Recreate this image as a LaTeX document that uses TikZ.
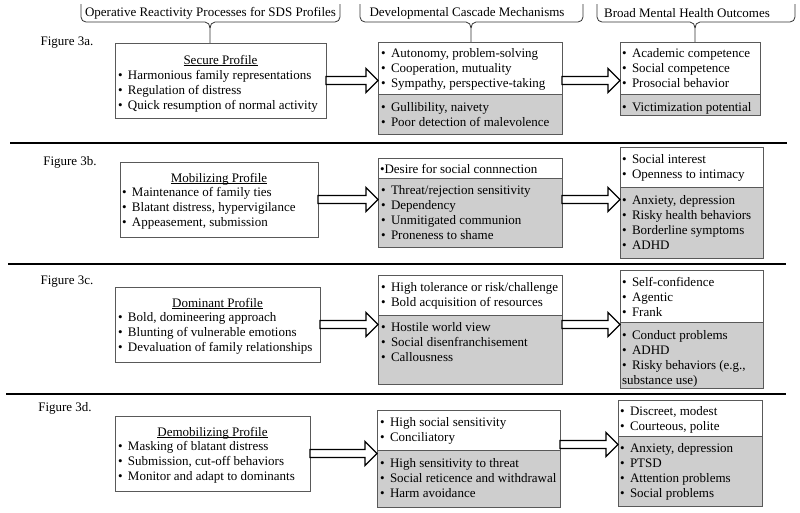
\documentclass[tikz,border=0pt]{standalone}
\usepackage{fontspec}
\setmainfont{Liberation Serif}
\usetikzlibrary{calc}
\definecolor{boxgray}{RGB}{206,206,206}
\newcommand\bul{\makebox[10pt][l]{\textbullet}}
\newcommand\fst{\rule{0pt}{10pt}}
\newcommand\ulin[1]{\setbox0\hbox{#1}\rlap{\rule[-1.7pt]{\wd0}{0.6pt}}\box0}
\newcommand\blockarr[2]{\draw[barrow] ($(#1)+(0,-4)$) -- ($(#2)+(-12,-4)$) -- ($(#2)+(-12,-12)$) -- (#2) -- ($(#2)+(-12,12)$) -- ($(#2)+(-12,4)$) -- ($(#1)+(0,4)$) -- cycle;}
\newcommand\hbrk[4]{\draw[brk] (#1,4) -- (#1,17) to[out=-90,in=180] ({#1+5},22) -- ({#3-5},22) to[out=0,in=90] (#3,28) -- (#3,#4);
  \draw[brk] (#3,28) to[out=90,in=180] ({#3+5},22) -- ({#2-5},22) to[out=0,in=-90] (#2,17) -- (#2,4);}
\begin{document}
\begin{tikzpicture}[x=1pt,y=-1pt,
  box/.style={draw=black!65, line width=0.8pt, inner sep=0pt, outer sep=0pt, anchor=north west},
  wbox/.style={box, fill=white},
  gbox/.style={box, fill=boxgray},
  sz/.style 2 args={minimum width=#1pt, minimum height=#2pt},
  txt/.style={anchor=north west, inner sep=0pt, outer sep=0pt, align=left, font=\fontsize{13}{15}\selectfont},
  ttl/.style={anchor=north, inner sep=0pt, outer sep=0pt, font=\fontsize{13}{15}\selectfont},
  hdr/.style={inner sep=0pt, font=\fontsize{13}{15}\selectfont},
  fig/.style={inner sep=0pt, font=\fontsize{13}{15}\selectfont},
  barrow/.style={draw=black, line width=1.3pt, fill=white, line join=miter},
  sepline/.style={line width=2pt},
  brk/.style={line width=0.8pt, black!80}]
\useasboundingbox (0,0) rectangle (800,512);

% headers
\node[hdr] (h1) at (210.5,13) {Operative Reactivity Processes for SDS Profiles};
\node[hdr] (h2) at (467,13) {Developmental Cascade Mechanisms};
\node[hdr] (h3) at (687,13) {Broad Mental Health Outcomes};
\hbrk{81}{340}{210}{43}
\hbrk{360}{583}{471}{42}
\hbrk{597}{795}{695}{42}

% separators
\coordinate (s1l) at (10,143); \coordinate (s1r) at (787,143);
\coordinate (s2l) at (8,264);  \coordinate (s2r) at (786,264);
\coordinate (s3l) at (6,394);  \coordinate (s3r) at (786,394);
\draw[sepline] (s1l) -- (s1r);
\draw[sepline] (s2l) -- (s2r);
\draw[sepline] (s3l) -- (s3r);

% ---------- Figure 3a ----------
\node[fig] (f3a) at (67,43) {Figure 3a.};
\node[wbox, sz={211}{75}] (la) at (115,43) {};
\node[ttl] (la-h) at ($(la.north)+(0,11)$) {\fst\ulin{Secure Profile}};
\node[txt] (la-t) at (118,69) {\fst\bul Harmonious family representations\\\bul Regulation of distress\\\bul Quick resumption of normal activity};
\node[wbox, sz={184}{52}] (ma) at (378,42) {};
\node[gbox, sz={184}{40}] (mag) at (378,94) {};
\node[txt] (ma-t) at (381,47) {\fst\bul Autonomy, problem-solving\\\bul Cooperation, mutuality\\\bul Sympathy, perspective-taking};
\node[txt] (mag-t) at (381,101) {\fst\bul Gullibility, naivety\\\bul Poor detection of malevolence};
\node[wbox, sz={140}{52}] (ra) at (620,42) {};
\node[gbox, sz={140}{21}] (rag) at (620,94) {};
\node[txt] (ra-t) at (622,47) {\fst\bul Academic competence\\\bul Social competence\\\bul Prosocial behavior};
\node[txt] (rag-t) at (622,101) {\fst\bul Victimization potential};
\coordinate (a1s) at (la.east);
\coordinate (a1t) at (ma.west |- la.east);
\coordinate (a2s) at (ma.east |- la.east);
\coordinate (a2t) at (ra.west |- la.east);
\blockarr{a1s}{a1t}
\blockarr{a2s}{a2t}

% ---------- Figure 3b ----------
\node[fig] (f3b) at (70,162) {Figure 3b.};
\node[wbox, sz={198}{75}] (lb) at (120,162) {};
\node[ttl] (lb-h) at ($(lb.north)+(0,10)$) {\fst\ulin{Mobilizing Profile}};
\node[txt] (lb-t) at (122,186) {\fst\bul Maintenance of family ties\\\bul Blatant distress, hypervigilance\\\bul Appeasement, submission};
\node[wbox, sz={184}{20}] (mb) at (378,158) {};
\node[gbox, sz={184}{69}] (mbg) at (378,178) {};
\node[txt] (mb-t) at (380,163) {\fst\textbullet Desire for social connnection};
\node[txt] (mbg-t) at (381,184) {\fst\bul Threat/rejection sensitivity\\\bul Dependency\\\bul Unmitigated communion\\\bul Proneness to shame};
\node[wbox, sz={143}{40}] (rb) at (620,147) {};
\node[gbox, sz={143}{71}] (rbg) at (620,187) {};
\node[txt] (rb-t) at (622,153) {\fst\bul Social interest\\\bul Openness to intimacy};
\node[txt] (rbg-t) at (622,194) {\fst\bul Anxiety, depression\\\bul Risky health behaviors\\\bul Borderline symptoms\\\bul ADHD};
\coordinate (b1s) at (lb.east);
\coordinate (b1t) at (mbg.west |- lb.east);
\coordinate (b2s) at (mbg.east |- lb.east);
\coordinate (b2t) at (rbg.west |- lb.east);
\blockarr{b1s}{b1t}
\blockarr{b2s}{b2t}

% ---------- Figure 3c ----------
\node[fig] (f3c) at (67,282) {Figure 3c.};
\node[wbox, sz={205}{75}] (lc) at (115,287) {};
\node[ttl] (lc-h) at ($(lc.north)+(0,10)$) {\fst\ulin{Dominant Profile}};
\node[txt] (lc-t) at (118,311) {\fst\bul Bold, domineering approach\\\bul Blunting of vulnerable emotions\\\bul Devaluation of family relationships};
\node[wbox, sz={184}{40}] (mc) at (378,275) {};
\node[gbox, sz={184}{69}] (mcg) at (378,315) {};
\node[txt] (mc-t) at (381,281) {\fst\bul High tolerance or risk/challenge\\\bul Bold acquisition of resources};
\node[txt] (mcg-t) at (381,321) {\fst\bul Hostile world view\\\bul Social disenfranchisement\\\bul Callousness};
\node[wbox, sz={143}{52}] (rc) at (620,270) {};
\node[gbox, sz={143}{66}] (rcg) at (620,322) {};
\node[txt] (rc-t) at (622,276) {\fst\bul Self-confidence\\\bul Agentic\\\bul Frank};
\node[txt] (rcg-t) at (622,329) {\fst\bul Conduct problems\\\bul ADHD\\\bul Risky behaviors (e.g.,\\substance use)};
\coordinate (c1s) at (lc.east);
\coordinate (c1t) at (mc.west |- lc.east);
\coordinate (c2s) at (mc.east |- lc.east);
\coordinate (c2t) at (rc.west |- lc.east);
\blockarr{c1s}{c1t}
\blockarr{c2s}{c2t}

% ---------- Figure 3d ----------
\node[fig] (f3d) at (65,408) {Figure 3d.};
\node[wbox, sz={195}{75}] (ld) at (115,416) {};
\node[ttl] (ld-h) at ($(ld.north)+(0,10)$) {\fst\ulin{Demobilizing Profile}};
\node[txt] (ld-t) at (118,440) {\fst\bul Masking of blatant distress\\\bul Submission, cut-off behaviors\\\bul Monitor and adapt to dominants};
\node[wbox, sz={183}{40}] (md) at (377,410) {};
\node[gbox, sz={183}{57}] (mdg) at (377,450) {};
\node[txt] (md-t) at (380,416) {\fst\bul High social sensitivity\\\bul Conciliatory};
\node[txt] (mdg-t) at (380,457) {\fst\bul High sensitivity to threat\\\bul Social reticence and withdrawal\\\bul Harm avoidance};
\node[wbox, sz={144}{36}] (rd) at (618,400) {};
\node[gbox, sz={144}{70}] (rdg) at (618,436) {};
\node[txt] (rd-t) at (620,405) {\fst\bul Discreet, modest\\\bul Courteous, polite};
\node[txt] (rdg-t) at (620,442) {\fst\bul Anxiety, depression\\\bul PTSD\\\bul Attention problems\\\bul Social problems};
\coordinate (d1s) at (ld.east);
\coordinate (d1t) at (mdg.west |- ld.east);
\coordinate (d2s) at ($(md.east |- ld.east)+(0,-9)$);
\coordinate (d2t) at ($(rdg.west |- ld.east)+(0,-9)$);
\blockarr{d1s}{d1t}
\blockarr{d2s}{d2t}
\end{tikzpicture}
\end{document}
